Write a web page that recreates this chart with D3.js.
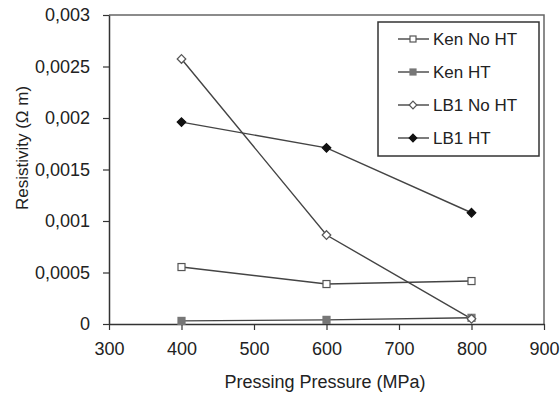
<!DOCTYPE html>
<html>
<head>
<meta charset="utf-8">
<script src="https://cdn.jsdelivr.net/npm/d3@7"></script>
<style>
  html, body { margin: 0; padding: 0; background: #fff; }
  svg { display: block; }
  text { font-family: "Liberation Sans", Arial, sans-serif; fill: #222; }
</style>
</head>
<body>
<svg id="chart" width="560" height="394"></svg>
<script>
const pressures = [400, 600, 800];
const kenNoHT = [0.000553, 0.000388, 0.000417];
const kenHT = [0.00003, 0.00004, 0.00006];
const lb1NoHT = [0.002573, 0.000864, 0.00005];
const lb1HT = [0.00196, 0.00171, 0.00108];
const seriesNames = ["Ken No HT", "Ken HT", "LB1 No HT", "LB1 HT"];
const xTicks = [300, 400, 500, 600, 700, 800, 900];
const yTicks = [0, 0.0005, 0.001, 0.0015, 0.002, 0.0025, 0.003];
const yTickLabels = ["0", "0,0005", "0,001", "0,0015", "0,002", "0,0025", "0,003"];
const xTitle = "Pressing Pressure (MPa)";
const yTitle = "Resistivity (\u03A9 m)";

const series = [
  {name: seriesNames[0], values: kenNoHT, shape: "square", fill: "#fff", stroke: "#555"},
  {name: seriesNames[1], values: kenHT, shape: "square", fill: "#777", stroke: "#777"},
  {name: seriesNames[2], values: lb1NoHT, shape: "diamond", fill: "#fff", stroke: "#555"},
  {name: seriesNames[3], values: lb1HT, shape: "diamond", fill: "#111", stroke: "#111"}
];

const svg = d3.select("#chart");
const mL = 109, mR = 544, mT = 15, mB = 324;
const x = d3.scaleLinear().domain([300, 900]).range([mL, mR]);
const y = d3.scaleLinear().domain([0, 0.003]).range([mB, mT]);

// plot area border (top & right)
svg.append("path")
  .attr("d", `M${mL},${mT}H${mR}V${mB}`)
  .attr("fill", "none").attr("stroke", "#666").attr("stroke-width", 1.5);

// x axis
const xAxis = svg.append("g").attr("transform", `translate(0,${mB})`)
  .call(d3.axisBottom(x).tickValues(xTicks).tickSize(6).tickSizeOuter(0).tickPadding(12));
xAxis.select(".domain").attr("stroke", "#333").attr("stroke-width", 1.5);
xAxis.selectAll(".tick line").attr("stroke", "#333").attr("stroke-width", 1.2);
xAxis.selectAll(".tick text").attr("font-size", 18).attr("fill", "#333")
  .attr("font-family", "Liberation Sans, Arial, sans-serif");

// y axis
const yAxis = svg.append("g").attr("transform", `translate(${mL},0)`)
  .call(d3.axisLeft(y).tickValues(yTicks).tickSize(6).tickSizeOuter(0).tickPadding(13)
    .tickFormat((d, i) => yTickLabels[i]));
yAxis.select(".domain").attr("stroke", "#333").attr("stroke-width", 1.5);
yAxis.selectAll(".tick line").attr("stroke", "#333").attr("stroke-width", 1.2);
yAxis.selectAll(".tick text").attr("font-size", 18).attr("fill", "#333")
  .attr("font-family", "Liberation Sans, Arial, sans-serif");

// titles
svg.append("text").attr("x", 325).attr("y", 388).attr("text-anchor", "middle")
  .attr("font-size", 18).attr("fill", "#333").text(xTitle);
svg.append("text").attr("transform", `translate(28,148) rotate(-90)`).attr("text-anchor", "middle")
  .attr("font-size", 17).attr("fill", "#333").text(yTitle);

// markers
function marker(g, s, cx, cy, size) {
  if (s.shape === "square") {
    g.append("rect").attr("x", cx - size/2).attr("y", cy - size/2)
      .attr("width", size).attr("height", size)
      .attr("fill", s.fill).attr("stroke", s.stroke).attr("stroke-width", 1.2);
  } else {
    const r = size/2 + 0.8;
    g.append("path").attr("d", `M${cx},${cy-r}L${cx+r},${cy}L${cx},${cy+r}L${cx-r},${cy}Z`)
      .attr("fill", s.fill).attr("stroke", s.stroke).attr("stroke-width", 1.2);
  }
}

const line = d3.line().x((d, i) => x(pressures[i])).y(d => y(d));
series.forEach(s => {
  svg.append("path").datum(s.values).attr("d", line)
    .attr("fill", "none").attr("stroke", "#444").attr("stroke-width", 1.4);
});
series.forEach(s => {
  const g = svg.append("g");
  s.values.forEach((v, i) => marker(g, s, x(pressures[i]), y(v), 7));
});

// legend
const lg = svg.append("g");
lg.append("rect").attr("x", 378).attr("y", 22).attr("width", 161).attr("height", 134)
  .attr("fill", "#fff").attr("stroke", "#333").attr("stroke-width", 1.5);
series.forEach((s, i) => {
  const cy = 39 + i * 33;
  lg.append("line").attr("x1", 398).attr("x2", 429).attr("y1", cy).attr("y2", cy)
    .attr("stroke", "#444").attr("stroke-width", 1.4);
  marker(lg, s, 413, cy, 6);
  lg.append("text").attr("x", 433).attr("y", cy + 6).attr("font-size", 17)
    .attr("fill", "#333").text(s.name);
});
</script>
</body>
</html>
